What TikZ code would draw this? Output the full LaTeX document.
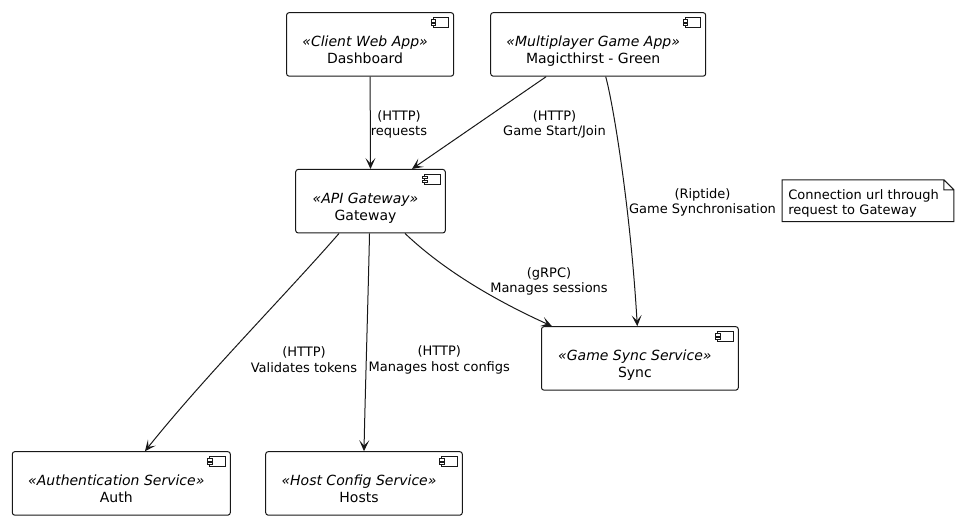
\documentclass[tikz,border=0pt]{standalone}
\usepackage{fontspec}
\setmainfont{DejaVu Sans}
\usetikzlibrary{
  arrows.meta,
  calc,
}
\newcommand{\comp}[2]{%
  \hspace*{-10pt}\raisebox{-11pt}[0pt][0pt]{\begin{tabular}{@{}c@{}}\textit{«#1»}\\#2\end{tabular}}}
\definecolor{inkc}{HTML}{181818}
\tikzset{
  x=1pt,
  y=-1pt,
  font=\fontsize{14}{17}\selectfont,
  text=black,
  >={Stealth[length=11pt,width=10pt,inset=5.5pt]},
  my box/.style={
    draw=inkc,
    line width=1pt,
    rounded corners=2.5pt,
    minimum height=63.5pt,
    inner sep=0pt,
    rectangle
  },
  my icon/.style={
    draw=inkc,
    line width=0.9pt,
    fill=white
  },
  my link/.style={
    ->,
    draw=inkc,
    line width=1pt
  },
  my label/.style={
    font=\fontsize{13}{15.5}\selectfont,
    align=center,
    inner sep=0pt
  },
  my note/.style={
    font=\fontsize{13}{15}\selectfont,
    align=left,
    text width=159.4pt,
    inner xsep=6pt,
    inner ysep=0pt,
    minimum height=41.5pt
  }
}
\begin{document}
\begin{tikzpicture}
\useasboundingbox (0,0) rectangle (959,520);
% components
\node[my box,minimum width=167pt] (dash) at (370.1,44.4) {\comp{Client Web App}{Dashboard}};
\node[my box,minimum width=215pt] (game) at (598.2,44.4) {\comp{Multiplayer Game App}{Magicthirst - Green}};
\node[my box,minimum width=149.6pt] (gate) at (370.5,201.2) {\comp{API Gateway}{Gateway}};
\node[my box,minimum width=196.8pt] (sync) at (639.9,358.4) {\comp{Game Sync Service}{Sync}};
\node[my box,minimum width=218pt] (auth) at (121.3,483.4) {\comp{Authentication Service}{Auth}};
\node[my box,minimum width=196.6pt] (hosts) at (364,483.4) {\comp{Host Config Service}{Hosts}};
% component icons
\foreach \n in {dash,game,gate,sync,auth,hosts} {
  \draw[my icon] ([shift={(-21,5.3)}]\n.north east) rectangle +(15.7,10);
  \draw[my icon] ([shift={(-23,7.7)}]\n.north east) rectangle +(4.2,2.2);
  \draw[my icon] ([shift={(-23,11.3)}]\n.north east) rectangle +(4.2,2.2);
}
% note
\node[my note] (note) at (868,200.7) {\rule{0pt}{15pt}Connection url through\\request to Gateway};
\draw[draw=inkc,line width=1pt]
  (note.south west) -- (note.north west) -- ([xshift=-10pt]note.north east)
  -- ([yshift=-10pt]note.north east) -- (note.south east) -- cycle
  ([xshift=-10pt]note.north east) -- ([shift={(-10,10)}]note.north east)
  -- ([yshift=-10pt]note.north east);
% links
\draw[my link] (dash.south) -- (gate.north);
\draw[my link] ([xshift=-52pt]game.south) -- ([xshift=41.5pt]gate.north);
\draw[my link] ([xshift=7.5pt]game.south)
  .. controls +(7,25) and +(-7,-120) .. ([xshift=-2.6pt]sync.north);
\draw[my link] ([xshift=34.5pt]gate.south)
  .. controls +(40,38) and +(-55,-25) .. ([xshift=-88pt]sync.north);
\draw[my link] ([xshift=-31.5pt]gate.south)
  .. controls +(-54,62) and +(60,-75) .. ([xshift=23.7pt]auth.north);
\draw[my link] ([xshift=-1pt]gate.south)
  .. controls +(-1,50) and +(1,-50) .. (hosts.north);
% labels
\node[my label] (l1) at (399,124.6) {(HTTP)\\requests};
\node[my label] (l2) at (554.5,124.6) {(HTTP)\\Game Start/Join};
\node[my label] (l3) at (702.5,202.6) {(Riptide)\\Game Synchronisation};
\node[my label] (l4) at (549,281.6) {(gRPC)\\Manages sessions};
\node[my label] (l5) at (304,359.8) {(HTTP)\\Validates tokens};
\node[my label] (l6) at (439.3,359.8) {(HTTP)\\Manages host configs};
\end{tikzpicture}
\end{document}
